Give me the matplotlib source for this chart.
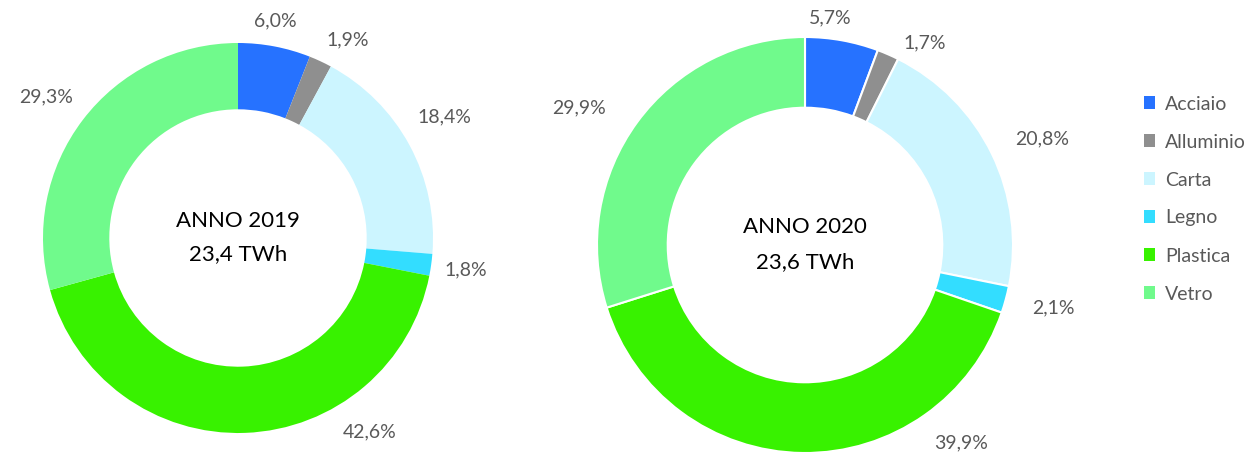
import numpy as np
import matplotlib.pyplot as plt
from matplotlib.patches import Patch

plt.rcParams['font.family'] = ['Lato', 'DejaVu Sans']

materiali = ['Acciaio', 'Alluminio', 'Carta', 'Legno', 'Plastica', 'Vetro']
colori = ['#2672FF', '#8F8F8F', '#CCF5FF', '#33DDFF', '#38F200', '#70FA8C']
quote_2019 = [6.0, 1.9, 18.4, 1.8, 42.6, 29.3]
quote_2020 = [5.7, 1.7, 20.8, 2.1, 39.9, 29.9]
totale_2019 = '23,4 TWh'
totale_2020 = '23,6 TWh'

W, H = 1248, 454
fig = plt.figure(figsize=(W / 100, H / 100), dpi=100)


def ciambella(cx, cy, r, valori, anno, totale, edge, dist, shift):
    ax = fig.add_axes([(cx - r) / W, (H - cy - r) / H, 2 * r / W, 2 * r / H])
    ax.pie(valori, colors=colori, startangle=90, counterclock=False,
           radius=1.0, wedgeprops=dict(width=0.34, edgecolor=edge, linewidth=1.5))
    # etichette esterne (posizione tipo "adatta" di Excel)
    tot = sum(valori)
    cum = 0.0
    for v, d, s in zip(valori, dist, shift):
        mid = (cum + v / 2) / tot * 360 + s
        cum += v
        a = np.deg2rad(90 - mid)
        ax.text(d * np.cos(a), d * np.sin(a), ('%.1f%%' % v).replace('.', ','),
                ha='center', va='center', fontsize=14, color='#595959')
    ax.text(0, 0.085, 'ANNO ' + anno, ha='center', va='center', fontsize=16, color='black')
    ax.text(0, -0.08, totale, ha='center', va='center', fontsize=16, color='black')
    ax.set_xlim(-1, 1)
    ax.set_ylim(-1, 1)
    ax.set_aspect('equal')
    ax.axis('off')


ciambella(238, 238, 195, quote_2019, '2019', totale_2019, 'none',
          [1.13, 1.16, 1.23, 1.18, 1.2, 1.22], [-1, 4, -2, 0, -32, -1])
ciambella(805, 245, 208, quote_2020, '2020', totale_2020, 'white',
          [1.10, 1.13, 1.25, 1.23, 1.21, 1.27], [-4, 7, 2, -1, -39, -5])

handles = [Patch(facecolor=c, edgecolor='none') for c in colori]
fig.legend(handles, materiali, loc='upper left', bbox_to_anchor=(1126 / W, 1 - 78 / H),
           frameon=False, fontsize=14, labelcolor='#595959', handlelength=0.6, handleheight=0.6,
           handletextpad=0.5, labelspacing=1.08)

fig.savefig('out.png', dpi=100)
